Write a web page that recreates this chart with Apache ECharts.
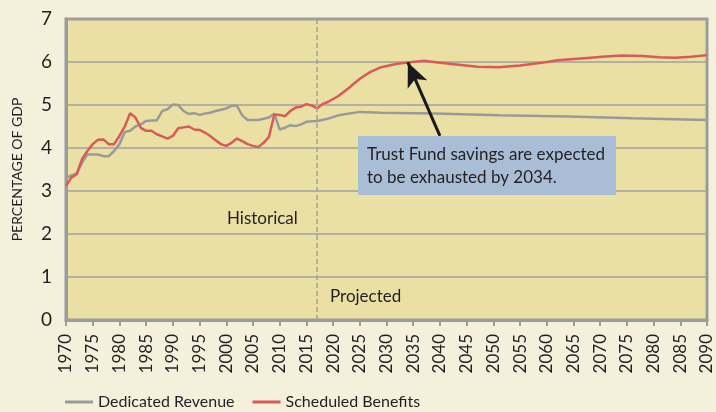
<!DOCTYPE html>
<html>
<head>
<meta charset="utf-8">
<script src="https://cdn.jsdelivr.net/npm/echarts@6/dist/echarts.min.js"></script>
<style>
  html, body { margin: 0; padding: 0; background: #f5f0dc; }
  #chart { width: 716px; height: 412px; }
</style>
</head>
<body>
<div id="chart"></div>
<script>
// Scheduled Benefits (red), percent of GDP
var benefitYears = [1970,1971,1972,1973,1974,1975,1976,1977,1978,1979,1980,1981,1982,1983,1984,1985,1986,1987,1988,1989,
  1990,1991,1992,1993,1994,1995,1996,1997,1998,1999,2000,2001,2002,2003,2004,2005,2006,2007,2008,2009,
  2010,2011,2012,2013,2014,2015,2016,2017,2018,2019,2021,2023,2025,2027,2029,2032,2034,2037,2040,2044,
  2047,2051,2055,2059,2062,2067,2071,2074,2078,2081,2084,2087,2090];
var benefitValues = [3.12,3.31,3.39,3.74,3.93,4.09,4.19,4.20,4.09,4.09,4.28,4.50,4.81,4.71,4.47,4.40,4.40,4.32,4.27,4.22,
  4.28,4.46,4.48,4.50,4.43,4.42,4.36,4.28,4.18,4.09,4.05,4.12,4.22,4.16,4.09,4.05,4.02,4.12,4.26,4.78,
  4.77,4.74,4.86,4.94,4.96,5.02,4.99,4.92,5.02,5.07,5.21,5.40,5.61,5.77,5.88,5.96,5.99,6.03,5.98,5.93,
  5.89,5.88,5.92,5.98,6.04,6.09,6.13,6.15,6.14,6.11,6.10,6.12,6.16];

// Dedicated Revenue (gray), percent of GDP
var revenueYears = [1970,1971,1972,1973,1974,1975,1976,1977,1978,1979,1980,1981,1982,1983,1984,1985,1986,1987,1988,1989,
  1990,1991,1992,1993,1994,1995,1996,1997,1998,1999,2000,2001,2002,2003,2004,2005,2006,2007,2008,2009,
  2010,2011,2012,2013,2014,2015,2016,2017,2019,2021,2025,2029,2039,2051,2064,2076,2090];
var revenueValues = [3.31,3.36,3.41,3.66,3.85,3.85,3.85,3.81,3.81,3.93,4.09,4.37,4.40,4.50,4.55,4.63,4.64,4.64,4.86,4.90,
  5.01,5.00,4.86,4.79,4.81,4.77,4.80,4.82,4.86,4.89,4.92,4.98,4.98,4.76,4.65,4.65,4.65,4.68,4.71,4.80,
  4.43,4.47,4.53,4.51,4.55,4.61,4.62,4.63,4.68,4.76,4.84,4.82,4.80,4.76,4.73,4.69,4.65];

var projectionStart = 2017;
var exhaustionPoint = [2034, 5.99];
var arrowStart = [2040, 4.28];

function pairs(xs, ys) {
  return xs.map(function (x, i) { return [x, ys[i]]; });
}

var FONT = 'Lato';
var TEXT = '#231f20';
var chart = echarts.init(document.getElementById('chart'));

chart.setOption({
  backgroundColor: '#f5f0dc',
  textStyle: { fontFamily: FONT, color: TEXT },
  animation: false,
  grid: {
    left: 66, right: 9, top: 19, bottom: 92,
    show: true,
    backgroundColor: '#eae0a4',
    borderColor: '#9c9c9c',
    borderWidth: 3
  },
  legend: {
    top: 389,
    left: 60,
    icon: 'rect',
    itemWidth: 28,
    itemHeight: 3,
    itemGap: 18,
    textStyle: { fontFamily: FONT, fontSize: 16, color: TEXT },
    data: ['Dedicated Revenue', 'Scheduled Benefits']
  },
  xAxis: {
    type: 'value',
    min: 1970, max: 2090, interval: 5,
    axisLine: { show: true, lineStyle: { color: '#9c9c9c', width: 3 } },
    axisTick: { show: true, length: 6, lineStyle: { color: '#9c9c9c', width: 2 } },
    splitLine: { show: false },
    axisLabel: {
      rotate: 90, fontSize: 17, color: TEXT, fontFamily: FONT, margin: 14,
      formatter: function (v) { return String(v); }
    }
  },
  yAxis: {
    type: 'value',
    min: 0, max: 7, interval: 1,
    name: 'PERCENTAGE OF GDP',
    nameLocation: 'middle',
    nameGap: 42,
    nameTextStyle: { fontSize: 14, color: TEXT, fontFamily: FONT },
    axisLine: { show: true, lineStyle: { color: '#9c9c9c', width: 3 } },
    axisTick: { show: false },
    axisLabel: { fontSize: 19, color: TEXT, fontFamily: FONT, margin: 14 },
    splitLine: { show: true, lineStyle: { color: '#a0a0a0', width: 1.5 } }
  },
  series: [
    {
      name: 'Dedicated Revenue',
      type: 'line',
      symbol: 'none',
      data: pairs(revenueYears, revenueValues),
      lineStyle: { color: '#9a9a9a', width: 2.5 },
      itemStyle: { color: '#9a9a9a' },
      markLine: {
        silent: true,
        symbol: ['none', 'none'],
        label: { show: false },
        lineStyle: { color: '#a0a0a0', type: [5, 3], width: 1.5 },
        data: [{ xAxis: projectionStart }]
      },
      z: 2
    },
    {
      name: 'Scheduled Benefits',
      type: 'line',
      symbol: 'none',
      data: pairs(benefitYears, benefitValues),
      lineStyle: { color: '#d95a58', width: 2.5 },
      itemStyle: { color: '#d95a58' },
      markLine: {
        silent: true,
        symbol: ['none', 'arrow'],
        symbolSize: [16, 24],
        label: { show: false },
        lineStyle: { color: '#1a1a1a', type: 'solid', width: 3 },
        data: [[{ coord: arrowStart }, { coord: exhaustionPoint }]]
      },
      z: 3
    }
  ],
  graphic: [
    {
      type: 'text', left: 227, top: 210, z: 10,
      style: { text: 'Historical', fontFamily: FONT, fontSize: 17, fill: TEXT }
    },
    {
      type: 'text', left: 330, top: 288, z: 10,
      style: { text: 'Projected', fontFamily: FONT, fontSize: 17, fill: TEXT }
    },
    {
      type: 'rect', left: 358, top: 136, z: 10,
      shape: { width: 258, height: 59 },
      style: { fill: '#a9bdd6' }
    },
    {
      type: 'text', left: 367, top: 143, z: 11,
      style: {
        text: 'Trust Fund savings are expected\nto be exhausted by 2034.',
        fontFamily: FONT, fontSize: 17, lineHeight: 23, fill: TEXT
      }
    }
  ]
});
</script>
</body>
</html>
